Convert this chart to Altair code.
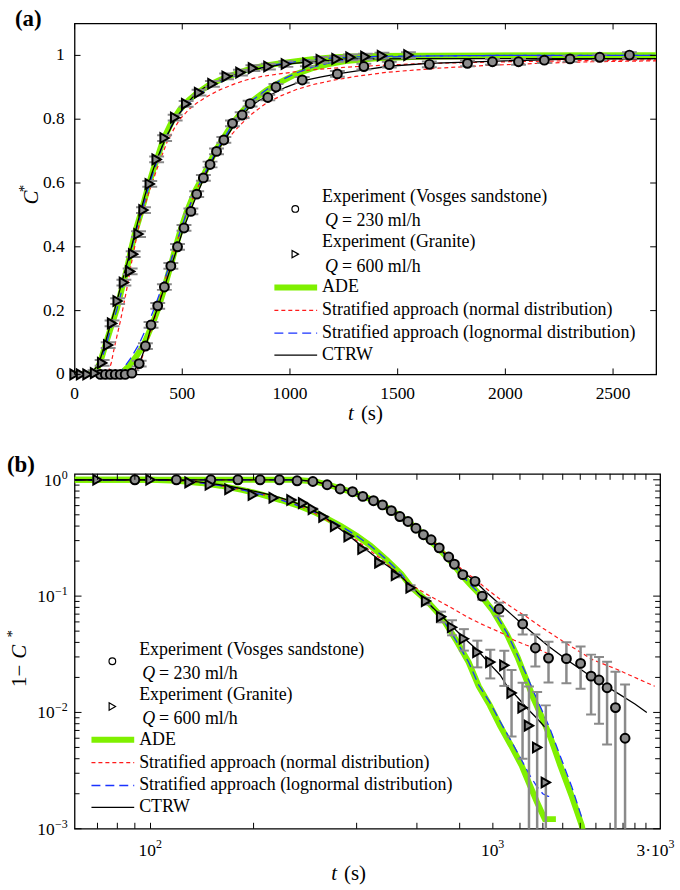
import altair as alt
import pandas as pd

FONT = "Liberation Serif"
GREEN = "#7ff000"
RED = "#ff1a1a"
BLUE = "#1a33ff"
GRAY = "#8a8a8a"
MFILL = "#8c8c8c"

# ---------------- panel (a): experiment points (t in s, C*) ----------------
a_gr_t = [0, 30, 60, 95, 128, 156, 174, 200, 229, 258, 272, 297, 320, 349, 381, 418, 467, 518, 578, 640,
          706, 770, 828, 900, 981, 1081, 1143, 1216, 1281, 1350, 1427, 1550]
a_gr_c = [0, 0, 0, 0.004, 0.036, 0.092, 0.16, 0.23, 0.288, 0.323, 0.377, 0.44, 0.515, 0.597, 0.674, 0.741,
          0.805, 0.848, 0.883, 0.911, 0.934, 0.946, 0.960, 0.965, 0.973, 0.975, 0.986, 0.989, 0.994, 0.996,
          0.999, 1.001]
a_gr_e = [0.005, 0.005, 0.005, 0.009, 0.009, 0.009, 0.009, 0.009, 0.009, 0.009, 0.009, 0.009, 0.009, 0.009,
          0.009, 0.009, 0.009, 0.009, 0.009, 0.009, 0.009, 0.009, 0.009, 0.009, 0.009, 0.009, 0.009, 0.009,
          0.009, 0.009, 0.009, 0.009]
a_vo_t = [120, 143, 166, 189, 212, 235, 266, 300, 329, 355, 386, 417, 447, 478, 508, 540, 567, 598, 629, 659,
          693, 733, 778, 815, 897, 935, 1057, 1220, 1343, 1461, 1647, 1824, 1940, 2061, 2181, 2300, 2438, 2576]
a_vo_c = [0, 0, 0, 0, 0, 0, 0.004, 0.034, 0.089, 0.155, 0.215, 0.274, 0.34, 0.40, 0.459, 0.511, 0.565, 0.616,
          0.658, 0.699, 0.735, 0.787, 0.813, 0.849, 0.868, 0.901, 0.923, 0.942, 0.965, 0.971, 0.972, 0.975,
          0.980, 0.980, 0.985, 0.989, 0.994, 1.001]
a_vo_e = [0.005, 0.005, 0.005, 0.005, 0.005, 0.005, 0.009, 0.009, 0.009, 0.009, 0.009, 0.009, 0.009, 0.009,
          0.009, 0.009, 0.009, 0.009, 0.009, 0.009, 0.009, 0.009, 0.009, 0.009, 0.009, 0.009, 0.009, 0.009,
          0.009, 0.009, 0.009, 0.009, 0.009, 0.009, 0.009, 0.009, 0.009, 0.009]

# ---------------- panel (a): model curves ----------------
a_ade_gr_t = [0, 80, 100, 120, 143, 170, 197, 220, 243, 262, 281, 312, 340, 366, 390, 412, 450, 489, 530, 566,
              620, 674, 740, 797, 870, 951, 1030, 1104, 1180, 1258, 1400, 1600, 2000, 2700]
a_ade_gr_c = [0, 0, 0.01, 0.04, 0.092, 0.15, 0.207, 0.27, 0.331, 0.39, 0.445, 0.515, 0.585, 0.643, 0.69, 0.736,
              0.79, 0.83, 0.86, 0.88, 0.905, 0.923, 0.94, 0.954, 0.966, 0.975, 0.982, 0.988, 0.993, 0.996,
              0.998, 0.999, 1.0, 1.0]
a_ctrw_gr_t = [0, 74, 100, 120, 143, 166, 189, 212, 235, 258, 282, 305, 335, 360, 382, 405, 428, 460, 489, 520,
               566, 600, 643, 700, 797, 870, 951, 1030, 1104, 1180, 1258, 1400, 1600, 2000, 2400, 2700]
a_ctrw_gr_c = [0, 0, 0.022, 0.05, 0.1, 0.155, 0.21, 0.27, 0.327, 0.383, 0.447, 0.508, 0.58, 0.632, 0.674,
               0.712, 0.747, 0.79, 0.82, 0.848, 0.882, 0.898, 0.913, 0.93, 0.949, 0.961, 0.97, 0.976, 0.98,
               0.984, 0.988, 0.989, 0.99, 0.99, 0.99, 0.99]
a_nrm_gr_t = [0, 150, 158, 170, 181, 196, 212, 228, 243, 258, 274, 290, 305, 335, 360, 382, 405, 428, 460, 489,
              530, 566, 620, 674, 740, 797, 870, 951, 1030, 1104, 1180, 1258, 1400, 1600, 2000, 2400, 2700]
a_nrm_gr_c = [0, 0, 0.01, 0.035, 0.072, 0.118, 0.165, 0.218, 0.27, 0.328, 0.383, 0.437, 0.487, 0.55, 0.6,
              0.643, 0.685, 0.726, 0.768, 0.8, 0.83, 0.85, 0.873, 0.892, 0.91, 0.923, 0.934, 0.942, 0.949,
              0.955, 0.959, 0.963, 0.968, 0.974, 0.98, 0.984, 0.986]
a_log_gr_t = [0, 95, 120, 143, 170, 197, 220, 243, 262, 281, 312, 340, 366, 390, 412, 450, 489, 530, 566, 620,
              674, 740, 797, 870, 951, 1030, 1104, 1180, 1258, 1400, 1600, 2000, 2700]
a_log_gr_c = [0, 0, 0.035, 0.085, 0.145, 0.205, 0.265, 0.327, 0.385, 0.44, 0.51, 0.578, 0.635, 0.68, 0.725,
              0.78, 0.82, 0.85, 0.872, 0.897, 0.915, 0.935, 0.948, 0.962, 0.973, 0.981, 0.987, 0.991, 0.994,
              0.997, 0.998, 1.0, 1.0]
a_ade_vo_t = [0, 197, 228, 258, 290, 320, 343, 366, 390, 412, 431, 451, 470, 489, 520, 560, 597, 630, 658, 700,
              735, 780, 827, 890, 951, 1030, 1104, 1180, 1258, 1400, 1600, 2000, 2700]
a_ade_vo_c = [0, 0, 0.01, 0.03, 0.06, 0.092, 0.128, 0.165, 0.21, 0.259, 0.305, 0.352, 0.4, 0.445, 0.508,
              0.575, 0.622, 0.667, 0.705, 0.75, 0.788, 0.826, 0.858, 0.89, 0.915, 0.942, 0.96, 0.973, 0.982,
              0.991, 0.996, 0.999, 1.0]
a_ctrw_vo_t = [0, 240, 271, 301, 331, 358, 389, 417, 449, 478, 506, 538, 569, 600, 631, 661, 697, 735, 778, 815,
               860, 897, 980, 1058, 1140, 1220, 1320, 1458, 1643, 1997, 2304, 2700]
a_ctrw_vo_c = [0, 0, 0.007, 0.035, 0.09, 0.155, 0.215, 0.274, 0.34, 0.399, 0.458, 0.513, 0.565, 0.615, 0.658,
               0.698, 0.735, 0.775, 0.81, 0.84, 0.86, 0.872, 0.9, 0.92, 0.932, 0.942, 0.952, 0.966, 0.975,
               0.983, 0.988, 0.99]
a_nrm_vo_t = [0, 270, 290, 312, 335, 358, 380, 400, 420, 445, 470, 489, 520, 560, 600, 640, 680, 720, 766, 820,
              889, 960, 1030, 1104, 1200, 1305, 1450, 1689, 1900, 2150, 2400, 2700]
a_nrm_vo_c = [0, 0, 0.015, 0.05, 0.095, 0.145, 0.195, 0.245, 0.295, 0.35, 0.405, 0.445, 0.505, 0.57, 0.625,
              0.67, 0.71, 0.745, 0.78, 0.815, 0.85, 0.874, 0.893, 0.908, 0.922, 0.934, 0.947, 0.96, 0.968,
              0.975, 0.98, 0.983]
a_log_vo_t = [0, 200, 228, 260, 297, 330, 366, 412, 451, 489, 520, 560, 597, 658, 735, 827, 900, 951, 1030, 1104,
              1180, 1258, 1400, 1600, 2000, 2700]
a_log_vo_c = [0, 0, 0.02, 0.05, 0.092, 0.14, 0.2, 0.285, 0.365, 0.445, 0.505, 0.57, 0.62, 0.7, 0.785, 0.86,
              0.897, 0.92, 0.945, 0.963, 0.976, 0.985, 0.993, 0.998, 1.0, 1.0]

# ---------------- panel (b): experiment points (t in s, 1 - C*) ----------------
b_gr_t = [70, 100, 130, 149, 170, 199, 229, 258, 279, 298, 320, 346, 379, 416, 466, 521, 575, 638, 706, 760,
          823, 901, 983, 1080, 1134, 1221, 1275, 1347, 1428]
b_gr_v = [1.0, 1.0, 0.95, 0.906, 0.83, 0.74, 0.70, 0.67, 0.63, 0.56, 0.48, 0.40, 0.326, 0.254, 0.194, 0.151,
          0.118, 0.0906, 0.0665, 0.054, 0.043, 0.0329, 0.0271, 0.0254, 0.0147, 0.011, 0.0077, 0.005, 0.0025]
b_gr_e = [0.004, 0.004, 0.005, 0.005, 0.005, 0.005, 0.006, 0.006, 0.006, 0.006, 0.006, 0.006, 0.006, 0.006,
          0.006, 0.006, 0.006, 0.006, 0.007, 0.008, 0.009, 0.0085, 0.0075, 0.0085, 0.0085, 0.007, 0.009,
          0.010, 0.009]
b_vo_t = [90, 119, 150, 180, 209, 238, 268, 298, 328, 358, 389, 417, 448, 476, 505, 535, 565, 596, 627, 660,
          697, 743, 772, 817, 887, 931, 1043, 1222, 1331, 1454, 1640, 1804, 1936, 2042, 2156, 2281, 2433]
b_vo_v = [1.0, 1.0, 1.0, 1.0, 1.0, 1.0, 0.98, 0.967, 0.906, 0.833, 0.79, 0.72, 0.661, 0.608, 0.543, 0.483,
          0.438, 0.383, 0.337, 0.305, 0.26, 0.217, 0.188, 0.153, 0.134, 0.10, 0.0775, 0.0577, 0.0358, 0.0293,
          0.029, 0.0264, 0.0205, 0.019, 0.0163, 0.011, 0.006]
b_vo_e = [0.004, 0.004, 0.004, 0.004, 0.004, 0.004, 0.005, 0.005, 0.005, 0.005, 0.005, 0.005, 0.005, 0.005,
          0.005, 0.005, 0.005, 0.005, 0.005, 0.005, 0.006, 0.006, 0.006, 0.006, 0.006, 0.007, 0.0103, 0.011,
          0.011, 0.0112, 0.0112, 0.0104, 0.0109, 0.011, 0.011, 0.0114, 0.0114]

# ---------------- panel (b): model curves ----------------
b_ade_gr_t = [60, 100, 120, 140, 160, 185, 210, 240, 270, 300, 330, 360, 400, 440, 490, 540, 580, 642, 712, 779,
              850, 909, 980, 1049, 1130, 1213, 1280, 1345, 1418, 1528]
b_ade_gr_v = [1.0, 1.0, 0.98, 0.94, 0.89, 0.82, 0.75, 0.67, 0.60, 0.53, 0.46, 0.40, 0.33, 0.27, 0.205, 0.155,
              0.118, 0.091, 0.065, 0.0423, 0.027, 0.0168, 0.0115, 0.0077, 0.0052, 0.0035, 0.0024, 0.0017,
              0.00121, 0.00121]
b_log_gr_t = [60, 100, 120, 140, 160, 185, 210, 240, 270, 300, 330, 360, 400, 440, 490, 540, 580, 642, 712, 779,
              850, 909, 980, 1049, 1130, 1213, 1280, 1345, 1399, 1450, 1500]
b_log_gr_v = [1.0, 1.0, 0.98, 0.94, 0.89, 0.82, 0.75, 0.67, 0.60, 0.53, 0.46, 0.40, 0.33, 0.27, 0.205, 0.155,
              0.118, 0.09, 0.064, 0.042, 0.027, 0.0172, 0.0122, 0.0084, 0.0057, 0.0039, 0.0029, 0.0023, 0.0020,
              0.0019, 0.0019]
b_ctrw_gr_t = [60, 110, 130, 150, 170, 200, 229, 260, 290, 320, 344, 380, 420, 470, 521, 580, 640, 702, 760,
               820, 899, 980, 1050, 1101, 1180, 1260, 1340, 1418]
b_ctrw_gr_v = [1.0, 1.0, 0.98, 0.93, 0.88, 0.80, 0.73, 0.65, 0.57, 0.49, 0.41, 0.33, 0.26, 0.20, 0.162, 0.12,
               0.09, 0.069, 0.055, 0.044, 0.0346, 0.026, 0.021, 0.0168, 0.0135, 0.0108, 0.009, 0.0075]
b_nrm_gr_t = [60, 110, 130, 150, 170, 200, 229, 260, 290, 320, 350, 380, 420, 470, 521, 575, 640, 700, 770, 839,
              920, 1000, 1080, 1150, 1250, 1372, 1450]
b_nrm_gr_v = [1.0, 1.0, 0.97, 0.92, 0.86, 0.78, 0.71, 0.63, 0.55, 0.47, 0.40, 0.335, 0.27, 0.21, 0.163, 0.126,
              0.104, 0.09, 0.077, 0.0665, 0.058, 0.052, 0.047, 0.042, 0.038, 0.0345, 0.032]
b_ade_vo_t = [60, 260, 300, 330, 360, 390, 420, 450, 480, 510, 540, 570, 600, 630, 660, 700, 740, 775, 812, 860,
              929, 1000, 1101, 1180, 1254, 1310, 1371, 1470, 1574, 1700, 1818, 1840]
b_ade_vo_v = [1.0, 1.0, 0.97, 0.91, 0.84, 0.78, 0.72, 0.66, 0.60, 0.54, 0.48, 0.43, 0.38, 0.335, 0.295, 0.25,
              0.21, 0.18, 0.151, 0.125, 0.099, 0.075, 0.0465, 0.03, 0.019, 0.0135, 0.01, 0.0062, 0.0035, 0.0019,
              0.00107, 0.0009]
b_log_vo_t = [60, 260, 300, 330, 360, 390, 420, 450, 480, 510, 540, 570, 600, 630, 660, 700, 740, 775, 812, 860,
              929, 1000, 1101, 1180, 1254, 1310, 1371, 1470, 1574, 1700, 1830]
b_log_vo_v = [1.0, 1.0, 0.97, 0.91, 0.84, 0.78, 0.72, 0.66, 0.60, 0.54, 0.48, 0.43, 0.38, 0.335, 0.295, 0.25,
              0.21, 0.18, 0.151, 0.126, 0.1, 0.077, 0.048, 0.031, 0.021, 0.0155, 0.0115, 0.0072, 0.0042, 0.0023,
              0.00118]
b_nrm_vo_t = [60, 250, 300, 330, 360, 390, 420, 450, 480, 510, 540, 570, 600, 630, 660, 700, 740, 780, 820, 876,
              950, 1050, 1150, 1254, 1400, 1600, 1800, 1961, 2300, 2700, 2971]
b_nrm_vo_v = [1.0, 1.0, 0.97, 0.91, 0.84, 0.78, 0.72, 0.66, 0.60, 0.54, 0.485, 0.44, 0.39, 0.345, 0.305, 0.26,
              0.22, 0.19, 0.165, 0.144, 0.118, 0.094, 0.078, 0.0664, 0.053, 0.041, 0.033, 0.0283, 0.0235, 0.019,
              0.0168]
b_ctrw_vo_t = [60, 270, 300, 330, 360, 390, 420, 450, 480, 510, 540, 570, 600, 630, 660, 700, 740, 780, 820, 887,
               950, 1043, 1130, 1222, 1331, 1454, 1640, 1804, 2000, 2300, 2600, 2816]
b_ctrw_vo_v = [1.0, 1.0, 0.97, 0.91, 0.84, 0.78, 0.72, 0.66, 0.60, 0.54, 0.485, 0.435, 0.385, 0.34, 0.30, 0.255,
               0.215, 0.185, 0.16, 0.134, 0.11, 0.086, 0.07, 0.057, 0.046, 0.037, 0.0285, 0.0235, 0.019, 0.0148,
               0.0118, 0.0100]

# ---------------- ticks and labels ----------------
a_xticks = [0, 500, 1000, 1500, 2000, 2500]
a_xlabels = ["0", "500", "1000", "1500", "2000", "2500"]
a_yticks = [0, 0.2, 0.4, 0.6, 0.8, 1.0]
a_ylabels = ["0", "0.2", "0.4", "0.6", "0.8", "1"]
b_xticks = [70, 80, 90, 100, 200, 400, 600, 800, 1000, 1200, 1400, 1600, 1800, 2000, 2200, 2400, 2600, 2800]
b_ymajor = [0.001, 0.01, 0.1, 1.0]
b_yminor = [0.002, 0.003, 0.004, 0.005, 0.006, 0.007, 0.008, 0.009,
            0.02, 0.03, 0.04, 0.05, 0.06, 0.07, 0.08, 0.09,
            0.2, 0.3, 0.4, 0.5, 0.6, 0.7, 0.8, 0.9]
b_ylabel_vals = [1.0, 0.1, 0.01, 0.001]
b_ylabel_exp = ["0", "\u22121", "\u22122", "\u22123"]
b_xlabel_vals = [100, 1000, 3000]
b_xlabel_base = ["10", "10", "3\u00b710"]
b_xlabel_exp = ["2", "3", "3"]

leg_exp = ["Experiment (Vosges sandstone)", "Experiment (Granite)"]
leg_q = ["= 230 ml/h", "= 600 ml/h"]
leg_models = ["ADE", "Stratified approach (normal distribution)",
              "Stratified approach (lognormal distribution)", "CTRW"]

# ---------------- helpers ----------------
ONE = pd.DataFrame({"k": [0]})


def series_df(items):
    rows = []
    for name, ts, ys in items:
        assert len(ts) == len(ys), name
        rows += [{"series": name, "t": a, "y": b} for a, b in zip(ts, ys)]
    return pd.DataFrame(rows)


def points_df(ts, ys, es, floor=None):
    assert len(ts) == len(ys) == len(es)
    df = pd.DataFrame({"t": ts, "y": ys, "e": es})
    df["lo"] = df["y"] - df["e"]
    df["hi"] = df["y"] + df["e"]
    if floor is not None:
        df["lo"] = df["lo"].clip(lower=floor)
    return df


def X(xs):
    return alt.X("t:Q", scale=xs, axis=None)


def Y(ys, field="y"):
    return alt.Y(f"{field}:Q", scale=ys, axis=None)


def lines(df, xs, ys, color, width, dash=None):
    mk = dict(color=color, strokeWidth=width, clip=True)
    if dash:
        mk["strokeDash"] = dash
    return alt.Chart(df).mark_line(**mk).encode(x=X(xs), y=Y(ys), detail="series:N")


def errbars(df, xs, ys, width, cap):
    d = df[df.e > 0]
    rule = alt.Chart(d).mark_rule(color=GRAY, strokeWidth=width, clip=True).encode(
        x=X(xs), y=Y(ys, "lo"), y2="hi:Q")
    lo = alt.Chart(d).mark_tick(orient="horizontal", color=GRAY, thickness=2, size=cap, opacity=1,
                                clip=True).encode(x=X(xs), y=Y(ys, "lo"))
    hi = alt.Chart(d).mark_tick(orient="horizontal", color=GRAY, thickness=2, size=cap, opacity=1,
                                clip=True).encode(x=X(xs), y=Y(ys, "hi"))
    return [rule, lo, hi]


def markers(df, xs, ys, shape, size):
    return alt.Chart(df).mark_point(shape=shape, filled=True, fill=MFILL, stroke="black", strokeWidth=2,
                                    size=size, opacity=1).encode(x=X(xs), y=Y(ys))


def xtick_layers(vals, xs, H, L):
    df = pd.DataFrame({"t": vals})
    return [alt.Chart(df).mark_rule(color="black", strokeWidth=1).encode(x=X(xs), y=alt.value(H), y2=alt.value(H - L)),
            alt.Chart(df).mark_rule(color="black", strokeWidth=1).encode(x=X(xs), y=alt.value(0), y2=alt.value(L))]


def ytick_layers(vals, ys, W, L):
    df = pd.DataFrame({"y": vals})
    return [alt.Chart(df).mark_rule(color="black", strokeWidth=1).encode(y=Y(ys), x=alt.value(0), x2=alt.value(L)),
            alt.Chart(df).mark_rule(color="black", strokeWidth=1).encode(y=Y(ys), x=alt.value(W), x2=alt.value(W - L))]


def text_at(s, x, y, size=18, style="normal", weight="normal", align="left", angle=0):
    kw = dict(text=s, font=FONT, fontSize=size, fontStyle=style, fontWeight=weight, align=align,
              baseline="middle", color="black")
    if angle:
        kw["angle"] = angle
    return alt.Chart(ONE).mark_text(**kw).encode(x=alt.value(x), y=alt.value(y))


def legend(ox, oy):
    rows = [0, 11.5, 24, 45, 57, 70, 90.5, 113.5, 136.5, 158.5]
    L = []
    L.append(text_at(leg_exp[0], ox + 48, oy + rows[0]))
    L.append(text_at("Q", ox + 51, oy + rows[2], style="italic"))
    L.append(text_at(leg_q[0], ox + 68, oy + rows[2]))
    L.append(text_at(leg_exp[1], ox + 48, oy + rows[3]))
    L.append(text_at("Q", ox + 51, oy + rows[5], style="italic"))
    L.append(text_at(leg_q[1], ox + 68, oy + rows[5]))
    L.append(alt.Chart(ONE).mark_point(shape="circle", filled=False, color="black", strokeWidth=1.2, size=45,
                                       opacity=1).encode(x=alt.value(ox + 21), y=alt.value(oy + rows[1])))
    L.append(alt.Chart(ONE).mark_point(shape="triangle-right", filled=False, color="black", strokeWidth=1.2,
                                       size=55, opacity=1).encode(x=alt.value(ox + 21), y=alt.value(oy + rows[4])))
    styles = [(GREEN, 6, None), (RED, 1.2, [4, 3]), (BLUE, 1.3, [9, 5]), ("black", 1.3, None)]
    for i, (lab, (col, w, dash)) in enumerate(zip(leg_models, styles)):
        y = oy + rows[6 + i]
        mk = dict(color=col, strokeWidth=w)
        if dash:
            mk["strokeDash"] = dash
        L.append(alt.Chart(ONE).mark_rule(**mk).encode(x=alt.value(ox), x2=alt.value(ox + 43), y=alt.value(y)))
        L.append(text_at(lab, ox + 48, y))
    return L


def curve_layers(xs, ys, ade, nrm, lgn, ctrw):
    return [lines(series_df(ade), xs, ys, GREEN, 6),
            lines(series_df(nrm), xs, ys, RED, 1.2, [4, 3]),
            lines(series_df(lgn), xs, ys, BLUE, 1.3, [9, 5]),
            lines(series_df(ctrw), xs, ys, "black", 1.3)]


# ---------------- panel (a) ----------------
W_A, H_A = 585, 353
XS_A = alt.Scale(domain=[0, 2700], nice=False, zero=False)
YS_A = alt.Scale(domain=[0, 1.1], nice=False, zero=False)

a_layers = curve_layers(
    XS_A, YS_A,
    [("g", a_ade_gr_t, a_ade_gr_c), ("v", a_ade_vo_t, a_ade_vo_c)],
    [("g", a_nrm_gr_t, a_nrm_gr_c), ("v", a_nrm_vo_t, a_nrm_vo_c)],
    [("g", a_log_gr_t, a_log_gr_c), ("v", a_log_vo_t, a_log_vo_c)],
    [("g", a_ctrw_gr_t, a_ctrw_gr_c), ("v", a_ctrw_vo_t, a_ctrw_vo_c)])
pa_gr = points_df(a_gr_t, a_gr_c, a_gr_e)
pa_vo = points_df(a_vo_t, a_vo_c, a_vo_e)
a_layers += errbars(pa_gr, XS_A, YS_A, 1.5, 15) + errbars(pa_vo, XS_A, YS_A, 1.5, 15)
a_layers += [markers(pa_vo, XS_A, YS_A, "circle", 80), markers(pa_gr, XS_A, YS_A, "triangle-right", 95)]
a_layers += xtick_layers(a_xticks, XS_A, H_A, 6) + ytick_layers(a_yticks, YS_A, W_A, 6)
a_layers.append(alt.Chart(pd.DataFrame({"t": a_xticks, "lab": a_xlabels})).mark_text(
    font=FONT, fontSize=17.5, align="center", baseline="middle", color="black").encode(
    x=X(XS_A), y=alt.value(H_A + 20), text="lab:N"))
a_layers.append(alt.Chart(pd.DataFrame({"y": a_yticks, "lab": a_ylabels})).mark_text(
    font=FONT, fontSize=17.5, align="right", baseline="middle", color="black").encode(
    y=Y(YS_A), x=alt.value(-10), text="lab:N"))
a_layers += legend(201, 175)
a_layers += [text_at("(a)", -60, -4, size=23, weight="bold"),
             text_at("t", 281, H_A + 40, size=21, style="italic", align="right"),
             text_at("(s)", 288, H_A + 40, size=21),
             text_at("C", -43, 175, size=21, style="italic", align="center", angle=270),
             text_at("*", -51, 166, size=15, align="center", angle=270)]
panel_a = alt.layer(*a_layers).properties(width=W_A, height=H_A)

# ---------------- panel (b) ----------------
W_B, H_B = 589, 357
XS_B = alt.Scale(type="log", domain=[60, 3080], nice=False)
YS_B = alt.Scale(type="log", domain=[0.001, 1.125], nice=False)

b_layers = curve_layers(
    XS_B, YS_B,
    [("g", b_ade_gr_t, b_ade_gr_v), ("v", b_ade_vo_t, b_ade_vo_v)],
    [("g", b_nrm_gr_t, b_nrm_gr_v), ("v", b_nrm_vo_t, b_nrm_vo_v)],
    [("g", b_log_gr_t, b_log_gr_v), ("v", b_log_vo_t, b_log_vo_v)],
    [("g", b_ctrw_gr_t, b_ctrw_gr_v), ("v", b_ctrw_vo_t, b_ctrw_vo_v)])
pb_gr = points_df(b_gr_t, b_gr_v, b_gr_e, floor=0.0002)
pb_vo = points_df(b_vo_t, b_vo_v, b_vo_e, floor=0.0002)
b_layers += errbars(pb_gr, XS_B, YS_B, 2.5, 10) + errbars(pb_vo, XS_B, YS_B, 2.5, 10)
b_layers += [markers(pb_vo, XS_B, YS_B, "circle", 80), markers(pb_gr, XS_B, YS_B, "triangle-right", 95)]
b_layers += xtick_layers(b_xticks, XS_B, H_B, 6)
b_layers += ytick_layers(b_ymajor, YS_B, W_B, 7) + ytick_layers(b_yminor, YS_B, W_B, 5)
# y tick labels 10^k
for v, e in zip(b_ylabel_vals, b_ylabel_exp):
    d = pd.DataFrame({"y": [v]})
    ew = 6.5 * len(e)
    b_layers.append(alt.Chart(d).mark_text(text="10", font=FONT, fontSize=17.5, align="right", baseline="middle",
                                           color="black", dy=1).encode(y=Y(YS_B), x=alt.value(-7 - ew)))
    b_layers.append(alt.Chart(d).mark_text(text=e, font=FONT, fontSize=12, align="right", baseline="middle",
                                           color="black", dy=-5).encode(y=Y(YS_B), x=alt.value(-7)))
# x tick labels
for v, bs, e in zip(b_xlabel_vals, b_xlabel_base, b_xlabel_exp):
    d = pd.DataFrame({"t": [v]})
    bw = 8.75 * len(bs) - (4 if "\u00b7" in bs else 0)
    tot = bw + 6.5
    b_layers.append(alt.Chart(d).mark_text(text=bs, font=FONT, fontSize=17.5, align="right", baseline="middle",
                                           color="black", dx=tot / 2 - 6.5).encode(x=X(XS_B), y=alt.value(H_B + 22)))
    b_layers.append(alt.Chart(d).mark_text(text=e, font=FONT, fontSize=12, align="left", baseline="middle",
                                           color="black", dx=tot / 2 - 6.5).encode(x=X(XS_B), y=alt.value(H_B + 15)))
b_layers += legend(17, 177)
b_layers += [text_at("(b)", -68, -9, size=23, weight="bold"),
             text_at("t", 264, H_B + 46, size=21, style="italic", align="right"),
             text_at("(s)", 271, H_B + 46, size=21),
             text_at("1\u2212", -55, 192, size=21, align="right", angle=270),
             text_at("C", -55, 186, size=21, style="italic", align="left", angle=270),
             text_at("*", -63, 161, size=15, align="center", angle=270)]
panel_b = alt.layer(*b_layers).properties(width=W_B, height=H_B)

chart = alt.vconcat(panel_a, panel_b, spacing=100, bounds="flush").properties(
    padding={"left": 4, "top": 5, "right": 5, "bottom": 5}, background="white"
).configure_view(stroke="black", strokeWidth=1.3)

chart.save("out.html", embed_options={"renderer": "svg", "actions": False})
